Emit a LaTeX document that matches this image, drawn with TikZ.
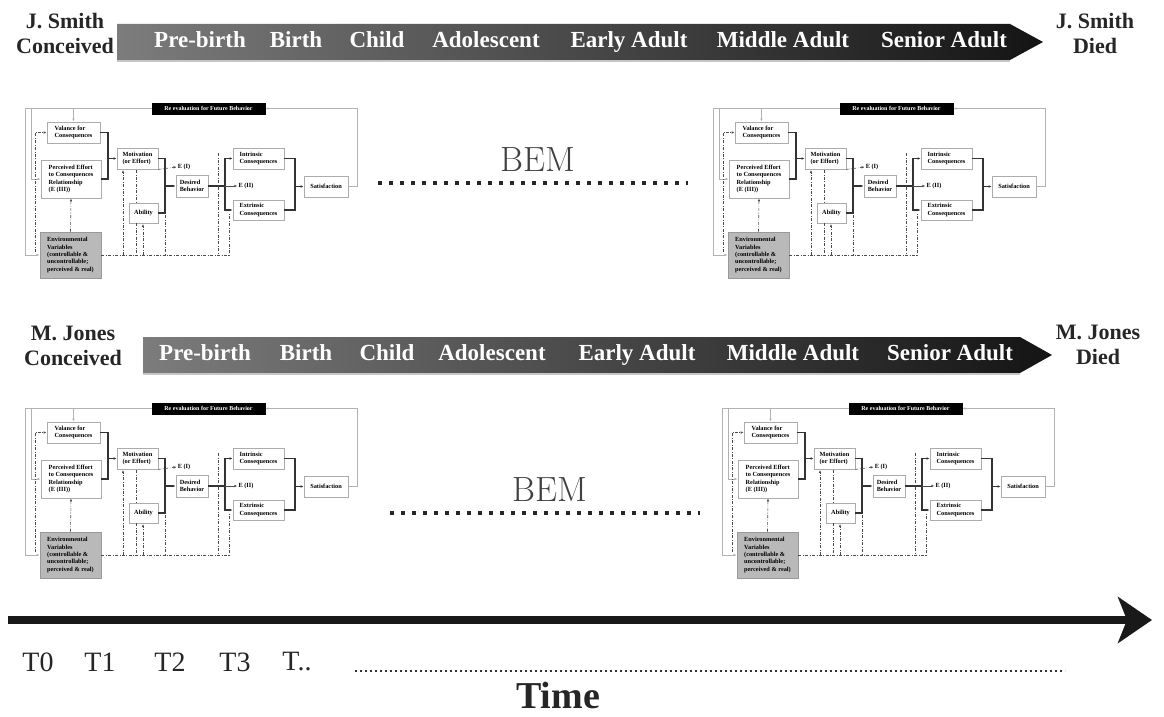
\documentclass[tikz,border=0pt]{standalone}
\usepackage{fontspec}
\newfontfamily\timesfont{Liberation Serif}
\usepackage{tikz}
\usetikzlibrary{arrows.meta,positioning}
\usepackage{xcolor}
\definecolor{bandlight}{HTML}{7C7C7C}
\definecolor{banddark}{HTML}{141414}

\tikzset{
  person/.style={font=\timesfont\bfseries\fontsize{22}{25}\selectfont, align=center, text=black!85},
  stage/.style={font=\timesfont\bfseries\fontsize{23}{25}\selectfont, text=white, text height=16pt, text depth=5pt},
  tick/.style={font=\timesfont\fontsize{28}{30}\selectfont, text=black!85},
  bembox/.style={draw=gray!65, line width=0.8pt, fill=white, inner sep=1.5pt, align=left,
    font=\timesfont\bfseries\fontsize{6.3}{7.3}\selectfont},
  bemlabel/.style={font=\timesfont\bfseries\fontsize{6.3}{7.3}\selectfont, inner sep=1pt},
  thick link/.style={line width=1.5pt, black!80},
  loop link/.style={line width=0.8pt, gray!60},
  env link/.style={line width=0.6pt, black!70, dash pattern=on 3pt off 1.5pt on 0.8pt off 1.5pt},
  small tip/.style={-{Latex[length=3pt,width=2.6pt]}},
  bem/.pic={
    % boxes
    \node[bembox, fill=black, draw=black, text=white, minimum width=113pt, minimum height=11pt, inner sep=0pt,
      font=\timesfont\bfseries\fontsize{6}{7}\selectfont] (-reval) at (208.5,108.5) {Re evaluation for Future Behavior};
    \node[bembox, minimum width=53pt, minimum height=21pt] (-val) at (73.5,132.5) {Valance for\\Consequences};
    \node[bembox, minimum width=60pt, minimum height=38pt] (-pe) at (71,179) {Perceived Effort\\to Consequences\\Relationship\\(E (III))};
    \node[bembox, minimum width=41pt, minimum height=21pt] (-mot) at (137.5,158.5) {Motivation\\(or Effort)};
    \node[bembox, minimum width=29pt, minimum height=20pt] (-abl) at (143.5,213) {Ability};
    \node[bembox, minimum width=32pt, minimum height=22pt] (-des) at (192,186) {Desired\\Behavior};
    \node[bembox, minimum width=51pt, minimum height=21pt] (-intr) at (258.5,158.5) {Intrinsic\\Consequences};
    \node[bembox, minimum width=51pt, minimum height=20pt] (-extr) at (258.5,210) {Extrinsic\\Consequences};
    \node[bembox, minimum width=44pt, minimum height=21pt] (-sat) at (326,186.5) {Satisfaction};
    \node[bembox, fill=gray!55, draw=gray!80, minimum width=61pt, minimum height=46pt] (-env) at (70.5,255) {Environmental\\Variables\\(controllable \&\\uncontrollable;\\perceived \& real)};
    \node[bemlabel] (-e1) at (184,167) {E (I)};
    \node[bemlabel] (-e2) at (246,186) {E (II)};
    % junctions
    \coordinate (-j1) at (108,158.5);
    \coordinate (-j2) at (165,186);
    \coordinate (-j3) at (225,186);
    \coordinate (-j4) at (295,186.5);
    \coordinate (-lt) at (25,108.5);
    \coordinate (-lt2) at (31,108.5);
    \coordinate (-lt3) at (73.5,108.5);
    \coordinate (-ld) at (35,252);
    % thick links
    \draw[thick link] (-val.east) -| (-j1);
    \draw[thick link] (-pe.east) -| (-j1);
    \draw[thick link, small tip] (-j1) -- (-mot.west);
    \draw[thick link] (-mot.east) -| (-j2);
    \draw[thick link] (-abl.east) -| (-j2);
    \draw[thick link, small tip] (-j2) -- (-des.west);
    \draw[thick link] (-des.east) -- (-j3);
    \draw[thick link, small tip] (-j3) |- (-intr.west);
    \draw[thick link, small tip] (-j3) |- (-extr.west);
    \draw[thick link] (-intr.east) -| (-j4);
    \draw[thick link] (-extr.east) -| (-j4);
    \draw[thick link, small tip] (-j4) -- (-sat.west);
    \draw[env link, small tip] (-mot.south east) -- (-e1.west);
    \draw[line width=0.6pt, black!70, small tip] (-j3) -- (-e2.west);
    % feedback loop
    \draw[loop link, small tip] (-sat.east) -- ++(9,0) |- (-reval.east);
    \draw[loop link, small tip] (-reval.west) -- (-lt) |- (-env.west);
    \draw[loop link, small tip] (-lt2) |- (-pe.west);
    \draw[loop link, small tip] (-lt3) -- (-val.north);
    % environment
    \draw[env link] (-env.east) -- (229,255) -- (229,214);
    \draw[env link, small tip] (-ld) |- (-val.west);
    \draw[env link, small tip] (-env.north) -- (-pe.south);
    \foreach \fx/\fy in {123/170, 143/224}
      \draw[env link, small tip] (\fx,255) -- (\fx,\fy);
    \foreach \fx/\fa/\fb in {136/170/203, 136/223/255, 165/215/255, 218/153/255}
      \draw[env link] (\fx,\fa) -- (\fx,\fb);
  }
}

\begin{document}
\begin{tikzpicture}[x=1pt, y=-1pt]
  \useasboundingbox (0,0) rectangle (1164,717);

  % J. Smith life band
  \shade[left color=bandlight, right color=banddark] (117,24) -- (1010,24) -- (1043,42) -- (1010,60) -- (117,60) -- cycle;
  \draw[gray!45, line width=1.2pt] (117,61) -- (1010,61);
  \foreach \x/\w [count=\i] in {200/Pre-birth, 296/Birth, 377/Child, 486/Adolescent, 629/Early Adult, 783/Middle Adult, 944/Senior Adult}
    \node[stage] (smith\i) at (\x,42) {\w};
  \node[person] (smithborn) at (65,33) {J. Smith\\Conceived};
  \node[person] (smithdied) at (1095,33) {J. Smith\\Died};

  \pic (smithA) at (0,0) {bem};
  \pic (smithB) at (688,0) {bem};
  \node[font=\fontsize{35}{37}\selectfont, text=black!75] (bemtop) at (538,160) {BEM};
  \draw[line width=4pt, dash pattern=on 4pt off 7pt, black!85] (378,183) -- (688,183);

  % M. Jones life band
  \shade[left color=bandlight, right color=banddark] (143,337) -- (1020,337) -- (1052,355) -- (1020,373) -- (143,373) -- cycle;
  \draw[gray!45, line width=1.2pt] (143,374) -- (1020,374);
  \foreach \x/\w [count=\i] in {205/Pre-birth, 306/Birth, 387/Child, 492/Adolescent, 637/Early Adult, 793/Middle Adult, 950/Senior Adult}
    \node[stage] (jones\i) at (\x,355) {\w};
  \node[person] (jonesborn) at (73,346) {M. Jones\\Conceived};
  \node[person] (jonesdied) at (1098,345) {M. Jones\\Died};

  \pic (jonesA) at (0,300) {bem};
  \pic (jonesB) at (697,300) {bem};
  \node[font=\fontsize{35}{37}\selectfont, text=black!75] (bembot) at (550,490) {BEM};
  \draw[line width=4pt, dash pattern=on 4pt off 7pt, black!85] (390,513) -- (700,513);

  % time axis
  \coordinate (tstart) at (8,620);
  \coordinate (tend) at (1152,620);
  \draw[line width=8pt, black!90, -{Stealth[length=34pt,width=46pt,inset=9pt]}] (tstart) -- (tend);
  \foreach \x/\t [count=\i] in {38/T0, 100/T1, 170/T2, 235/T3, 297/T..}
    \node[tick] (tick\i) at (\x,662) {\t};
  \draw[line width=1.6pt, dash pattern=on 1.6pt off 3.4pt, black!80] (355,671) -- (1065,671);
  \node[font=\timesfont\bfseries\fontsize{38}{42}\selectfont, text=black!85] (timelabel) at (558,695) {Time};
\end{tikzpicture}
\end{document}
